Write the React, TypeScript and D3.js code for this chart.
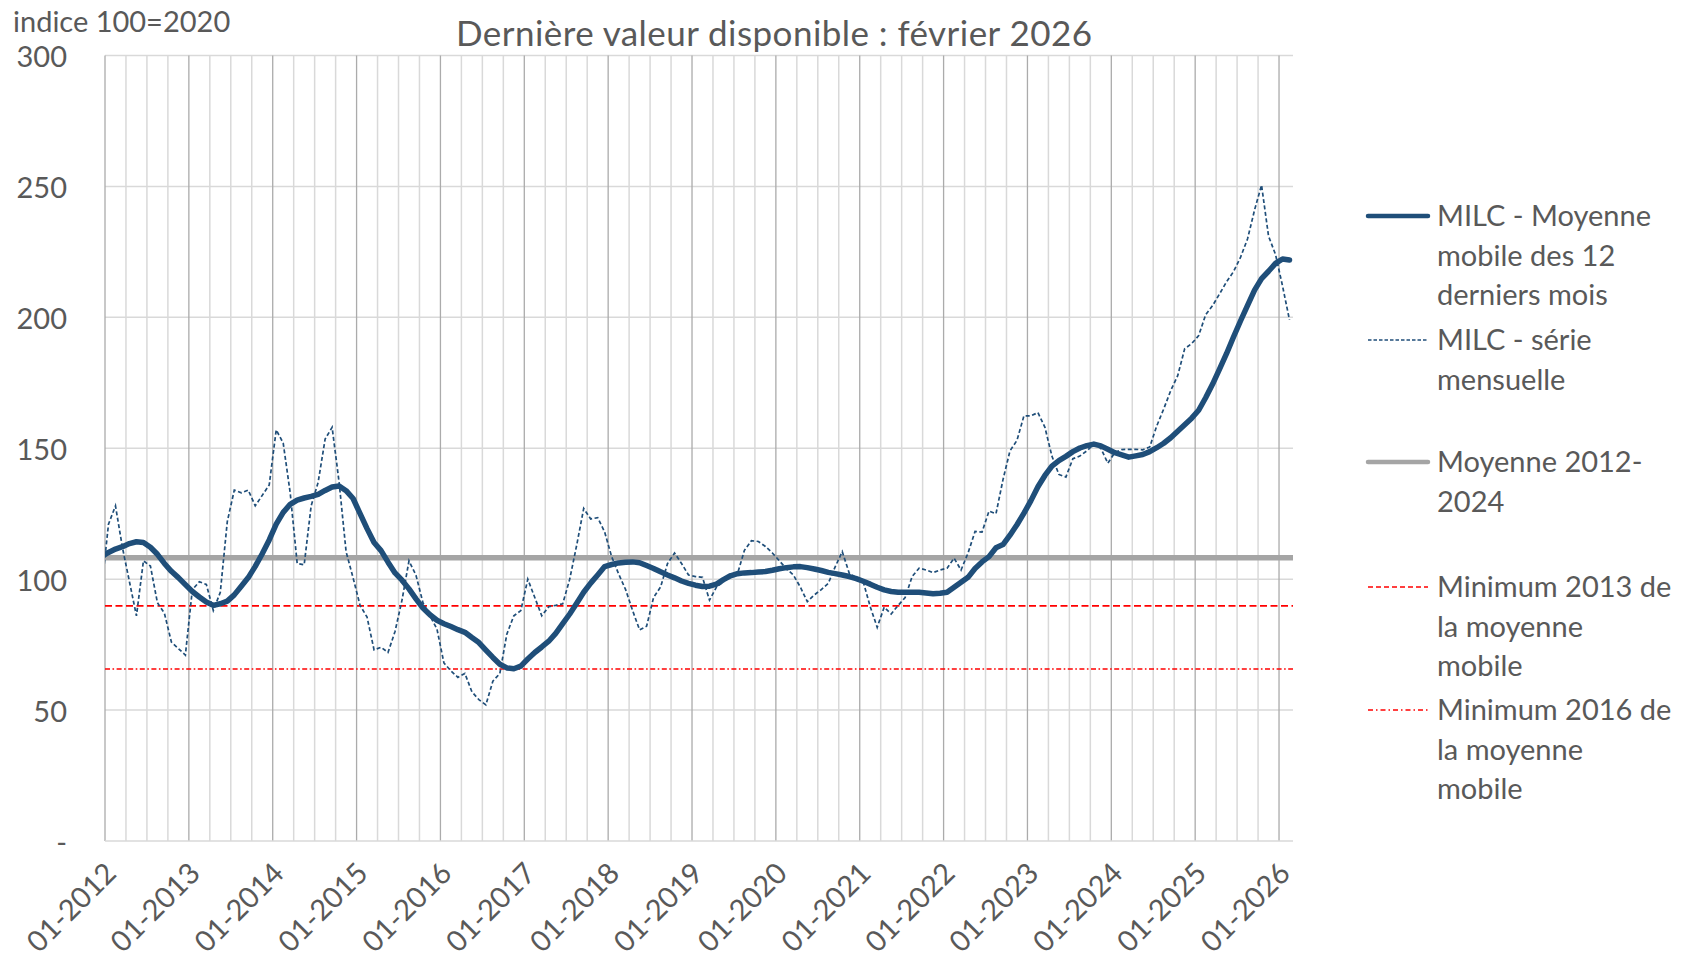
import { useMemo } from 'react'
import * as d3 from 'd3'

// MILC — indice 100=2020, série mensuelle + moyenne mobile 12 mois.
// Les catégories commencent en 12-2011 : ce point sert uniquement à faire partir
// les courbes du bord gauche (il est coupé par le clip, comme dans Excel).

const W = 1682
const H = 959
const PLOT = { left: 105, right: 1293, top: 55.5, bottom: 841 }
const FONT = 'Lato, "Open Sans", sans-serif'
const TEXT = '#595959'
const BLUE = '#1F4E79'

const MONTHS = d3.timeMonth.range(new Date(2011, 11, 1), new Date(2026, 2, 1))

const MILC_MENSUEL = [
  96,
  121, 128, 112, 99, 86, 107, 105, 91, 87, 76, 73.5, 71,
  96, 99, 98, 88, 95, 122, 134, 133, 134, 128, 132, 136,
  157, 152, 133, 106, 105.5, 128, 137, 153.5, 158, 137, 110.5, 100.5,
  90, 85.5, 73, 74, 72, 80, 92, 107, 101.5, 91, 86, 81,
  68, 65, 62.5, 64, 57, 54, 52, 61, 64, 79, 86, 88,
  100, 93, 86, 89.5, 90, 90.6, 100, 113, 127, 123, 123.5, 118,
  108.6, 102, 96, 88, 80.6, 82, 93, 97, 106, 110, 106, 101.6,
  101, 100.7, 92, 97, 99, 102, 102, 111, 114.7, 114.4, 112.5, 110,
  107, 104, 101.6, 97, 91.4, 94, 96, 98.4, 104.8, 110.5, 102.3, 100.5,
  99, 89.5, 81.6, 89.3, 86.7, 90, 93, 101, 104.2, 103.5, 102.5, 103.5,
  104.2, 108, 103.5, 110, 118.2, 118, 126, 125, 138, 149, 153, 162.4,
  162.4, 163.6, 158, 147, 140, 139, 146, 147, 149, 151.5, 150, 144.3,
  148.3, 149.5, 149.6, 149.6, 149.4, 150.5, 158.5, 165, 172, 177.7, 188, 190,
  193, 201, 204.5, 209, 213.6, 217.5, 223, 230, 241, 250.5, 231, 224,
  212, 199,
]

const MILC_MM12 = [
  108.6,
  110.2, 111.5, 112.4, 113.6, 114.3, 114, 112.2, 109.5, 106, 103, 100.6, 97.9,
  95.3, 93.2, 91.3, 90, 90.6, 91.6, 94, 97.3, 100.6, 104.9, 109.7, 115,
  121, 125.5, 128.6, 130.2, 131, 131.6, 132.4, 133.9, 135.2, 135.6, 133.8, 130.8,
  125, 119.3, 114, 110.9, 106.5, 102.4, 99.6, 96.3, 92.5, 89, 86.4, 84.3,
  83, 81.9, 80.7, 79.7, 77.7, 75.8, 72.9, 70.1, 67.5, 66.1, 65.8, 66.8,
  69.5, 72, 74.1, 76.3, 79.3, 83, 86.7, 90.8, 95, 98.5, 101.6, 104.8,
  105.6, 106.2, 106.5, 106.6, 106.3, 105.2, 104.1, 102.8, 101.6, 100.5, 99.3, 98.4,
  97.7, 97.2, 97.3, 98.1, 99.8, 101.3, 102.1, 102.4, 102.5, 102.7, 102.9, 103.4,
  104, 104.4, 104.7, 104.8, 104.4, 103.9, 103.3, 102.6, 102.1, 101.6, 101, 100.2,
  99.2, 98.1, 96.9, 95.9, 95.3, 95, 95, 95, 95, 94.7, 94.4, 94.6,
  95, 96.9, 98.8, 100.7, 104.1, 106.6, 108.6, 112, 113.2, 116.8, 120.8, 125.2,
  130, 135.3, 139.6, 143.2, 145.3, 146.9, 148.7, 150.1, 151, 151.6, 150.9, 149.6,
  148.3, 147.5, 146.6, 147.1, 147.6, 148.7, 150.2, 151.9, 154, 156.5, 159, 161.5,
  164.5, 169.3, 174.5, 180.3, 186.2, 192.6, 198.7, 204.6, 210.4, 214.8, 217.6, 220.6,
  222.3, 221.9,
]

const MOYENNE_2012_2024 = 108.2
const MIN_2013 = 89.8
const MIN_2016 = 65.7

const Y_TICKS = [0, 50, 100, 150, 200, 250, 300]
const Y_TICK_LABELS = ['-', '50', '100', '150', '200', '250', '300']
const X_TICK_LABELS = [
  '01-2012', '01-2013', '01-2014', '01-2015', '01-2016', '01-2017', '01-2018',
  '01-2019', '01-2020', '01-2021', '01-2022', '01-2023', '01-2024', '01-2025', '01-2026',
]

const LEGEND = [
  { lines: ['MILC - Moyenne', 'mobile des 12', 'derniers mois'], y: 216, stroke: BLUE, width: 4.5, dash: undefined },
  { lines: ['MILC - série', 'mensuelle'], y: 340, stroke: BLUE, width: 1.3, dash: '3.5 2' },
  { lines: ['Moyenne 2012-', '2024'], y: 462, stroke: '#A5A5A5', width: 4.5, dash: undefined },
  { lines: ['Minimum 2013 de', 'la moyenne', 'mobile'], y: 587, stroke: '#FF0000', width: 1.3, dash: '5 3' },
  { lines: ['Minimum 2016 de', 'la moyenne', 'mobile'], y: 710, stroke: '#FF0000', width: 1.3, dash: '5 3 1.5 3' },
]

const LINE_H = 39.6

export default function App() {
  const start = new Date(2012, 0, 1)
  const nMonths = 170

  const x = useMemo(() => d3.scaleLinear().domain([0, nMonths]).range([PLOT.left, PLOT.right]), [])
  const y = useMemo(() => d3.scaleLinear().domain([0, 300]).range([PLOT.bottom, PLOT.top]), [])

  // points au milieu de chaque mois (axe "entre les graduations")
  const pos = (d: Date) => x(d3.timeMonth.count(start, d) + 0.5)

  const lineOf = (values: number[]) =>
    d3
      .line<number>()
      .x((_, i) => pos(MONTHS[i]))
      .y((v) => y(v))(values) ?? ''

  const quarters = d3.range(0, nMonths, 3)

  return (
    <svg
      width={W}
      height={H}
      viewBox={`0 0 ${W} ${H}`}
      style={{ position: 'absolute', left: 0, top: 0, background: '#fff' }}
      fontFamily={FONT}
    >
      <defs>
        <clipPath id="plot-clip">
          <rect x={PLOT.left} y={PLOT.top - 10} width={PLOT.right - PLOT.left} height={PLOT.bottom - PLOT.top + 10} />
        </clipPath>
      </defs>

      <text x={13} y={32} fontSize={29} fill={TEXT}>indice 100=2020</text>
      <text x={456} y={46} fontSize={35} fill={TEXT} textLength={636} lengthAdjust="spacing">
        Dernière valeur disponible : février 2026
      </text>

      {/* quadrillage */}
      {Y_TICKS.filter((t) => t > 0).map((t) => (
        <line key={`h${t}`} x1={PLOT.left} x2={PLOT.right} y1={y(t)} y2={y(t)} stroke="#D9D9D9" strokeWidth={1.5} />
      ))}
      {quarters.map((m) => (
        <line
          key={`v${m}`}
          x1={x(m)}
          x2={x(m)}
          y1={PLOT.top}
          y2={PLOT.bottom}
          stroke={m % 12 === 0 ? '#ABABAB' : '#D9D9D9'}
          strokeWidth={m % 12 === 0 ? 1.3 : 1.5}
        />
      ))}
      <line x1={PLOT.left} x2={PLOT.right} y1={PLOT.bottom} y2={PLOT.bottom} stroke="#D9D9D9" strokeWidth={1.5} />

      {/* axe Y */}
      {Y_TICKS.map((t, i) => (
        <text key={`yt${t}`} x={67} y={y(t) + 11.5} fontSize={29} fill={TEXT} textAnchor="end">
          {Y_TICK_LABELS[i]}
        </text>
      ))}

      {/* axe X */}
      {X_TICK_LABELS.map((lab, k) => (
        <text
          key={lab}
          transform={`translate(${x(k * 12) + 13}, 875) rotate(-45)`}
          fontSize={29}
          fill={TEXT}
          textAnchor="end"
        >
          {lab}
        </text>
      ))}

      <g clipPath="url(#plot-clip)">
        <line
          x1={PLOT.left}
          x2={PLOT.right}
          y1={y(MOYENNE_2012_2024)}
          y2={y(MOYENNE_2012_2024)}
          stroke="#A5A5A5"
          strokeWidth={5.5}
        />
        <line x1={PLOT.left} x2={PLOT.right} y1={y(MIN_2013)} y2={y(MIN_2013)} stroke="#FF0000" strokeWidth={1.6} strokeDasharray="7 3.5" />
        <line x1={PLOT.left} x2={PLOT.right} y1={y(MIN_2016)} y2={y(MIN_2016)} stroke="#FF0000" strokeWidth={1.6} strokeDasharray="5 2.5 1.6 2.5" />
        <path d={lineOf(MILC_MENSUEL)} fill="none" stroke={BLUE} strokeWidth={1.7} strokeDasharray="4 2.5" />
        <path d={lineOf(MILC_MM12)} fill="none" stroke={BLUE} strokeWidth={5.5} strokeLinejoin="round" strokeLinecap="round" />
      </g>

      {/* légende */}
      {LEGEND.map((item) => (
        <g key={item.lines[0]}>
          <line
            x1={1368}
            x2={1428}
            y1={item.y}
            y2={item.y}
            stroke={item.stroke}
            strokeWidth={item.width}
            strokeDasharray={item.dash}
            strokeLinecap={item.dash ? 'butt' : 'round'}
          />
          {item.lines.map((l, i) => (
            <text key={l} x={1437} y={item.y + i * LINE_H + 10} fontSize={29} fill={TEXT}>
              {l}
            </text>
          ))}
        </g>
      ))}
    </svg>
  )
}
